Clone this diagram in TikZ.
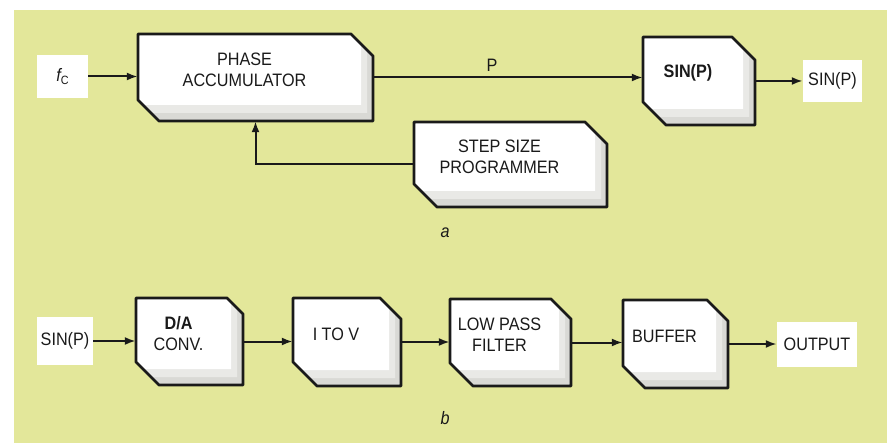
\documentclass[tikz,border=0pt]{standalone}
\usepackage{fontspec}
\setmainfont{Liberation Sans}[FakeStretch=0.9]
\usetikzlibrary{arrows.meta,fit}
\definecolor{bgy}{HTML}{E3E79A}
\definecolor{ink}{HTML}{1A1A1A}
\definecolor{shdA}{HTML}{D9D9D5}
\definecolor{shdB}{HTML}{E9E9E6}
\tikzset{
 lbl/.style={font=\fontsize{18}{21}\selectfont, text=ink, align=center, inner sep=0},
 wbox/.style={fill=white, inner sep=0, font=\fontsize{18}{21}\selectfont, text=ink},
 arr/.style={draw=ink, line width=2pt, -{Latex[length=11pt,width=8pt]}},
 border/.style={draw=ink, line width=2.8pt, line join=round},
}
% x1 y1 x2 y2 c1 c2 r b style
\newcommand\chpoly[9]{\path[#9] (#1,#2) -- ({#3-#5},#2) -- ({#3-#7},{#2+#5-#7}) -- ({#3-#7},{#4-#8}) -- ({#1+#6-#8},{#4-#8}) -- (#1,{#4-#6}) -- cycle;}
% name x1 y1 x2 y2 c1 c2 text
\newcommand\chbox[8]{%
  \chpoly{#2}{#3}{#4}{#5}{#6}{#7}{0}{0}{fill=shdA}
  \chpoly{#2}{#3}{#4}{#5}{#6}{#7}{6}{8}{fill=shdB}
  \chpoly{#2}{#3}{#4}{#5}{#6}{#7}{12}{16}{fill=white}
  \chpoly{#2}{#3}{#4}{#5}{#6}{#7}{0}{0}{border}
  \node[fit={(#2,#3) (#4,#5)}, inner sep=0] (#1) {};
  \node[lbl] (#1-t) at ([xshift=-11pt,yshift=8pt]#1.center) {#8};
}
\begin{document}
\begin{tikzpicture}[x=1pt,y=-1pt]
\useasboundingbox (0,0) rectangle (890,443);
\fill[white] (0,0) rectangle (890,443);
\fill[bgy] (14,10) rectangle (887,443);

% panel a
\chbox{pa}{138}{34}{373}{121}{22}{21}{PHASE\\ACCUMULATOR}
\chbox{sinb}{643}{37}{755}{125}{23}{23}{\bfseries SIN(P)}
\chbox{step}{414}{122}{607}{207}{22}{23}{STEP SIZE\\PROGRAMMER}

\node[wbox, minimum width=51pt, minimum height=43pt] (fc) at (62.5,76.5)
  {\itshape f\raisebox{-0.35ex}{\upshape\fontsize{12}{12}\selectfont C}};
\node[wbox, minimum width=59pt, minimum height=42pt] (sout) at (832.5,81) {SIN(P)};

\draw[arr] (fc.east) -- (fc.east -| pa.west);
\draw[arr] (pa.east) -- (pa.east -| sinb.west);
\node[lbl] (plbl) at (492,65) {P};
\draw[arr] (sinb.east) -- (sinb.east -| sout.west);
\draw[arr] (step.west) -| (pa.south);

\node[lbl, font=\fontsize{18}{21}\selectfont\itshape] (la) at (445,233) {a};

% panel b
\chbox{da}{136}{298}{243}{385}{16}{23}{\bfseries D/A\\CONV.}
\chbox{itov}{293}{298}{401}{386}{21}{24}{I TO V}
\chbox{lpf}{450}{299}{571}{386}{20}{23}{LOW PASS\\FILTER}
\chbox{buf}{623}{300}{728}{388}{21}{22}{BUFFER}

\node[wbox, minimum width=56pt, minimum height=48pt] (sin) at (65,341) {SIN(P)};
\node[wbox, minimum width=80pt, minimum height=45pt] (out) at (817,344.5) {OUTPUT};

\draw[arr] (sin.east) -- (sin.east -| da.west);
\draw[arr] (da.east) -- (da.east -| itov.west);
\draw[arr] (itov.east) -- (itov.east -| lpf.west);
\draw[arr] (lpf.east) -- (lpf.east -| buf.west);
\draw[arr] (buf.east) -- (buf.east -| out.west);

\node[lbl, font=\fontsize{18}{21}\selectfont\itshape] (lb) at (445,418) {b};
\end{tikzpicture}
\end{document}
